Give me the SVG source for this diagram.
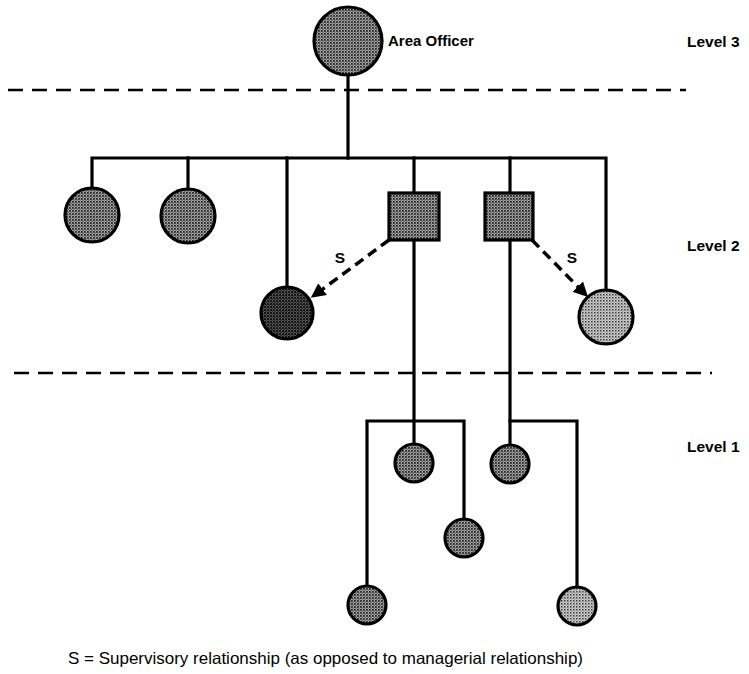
<svg xmlns="http://www.w3.org/2000/svg" width="749" height="674" viewBox="0 0 749 674">
<style>
.ln{stroke:#000;stroke-width:3.2;fill:none;stroke-linecap:square}
.div{stroke:#000;stroke-width:2.5;fill:none;stroke-dasharray:15 9}
.sup{stroke:#000;stroke-width:3.5;fill:none;stroke-dasharray:10 6}
.nd{stroke:#000;stroke-width:3.2}
.t{font-family:"Liberation Sans",Arial,sans-serif;font-weight:bold;fill:#000}
.cap{font-family:"Liberation Sans",Arial,sans-serif;fill:#000}
</style>
<defs>
<pattern id="pMed" width="3" height="3" patternUnits="userSpaceOnUse"><rect width="3" height="3" fill="#b4b4b4"/><rect width="1.8" height="1.8" fill="#222"/><rect x="1.5" y="1.5" width="1.3" height="1.3" fill="#444"/></pattern>
<pattern id="pDark" width="3" height="3" patternUnits="userSpaceOnUse"><rect width="3" height="3" fill="#7a7a7a"/><rect width="2.2" height="2.2" fill="#111"/><rect x="1.5" y="1.5" width="1.5" height="1.5" fill="#222"/></pattern>
<pattern id="pLight" width="3" height="3" patternUnits="userSpaceOnUse"><rect width="3" height="3" fill="#d6d6d6"/><rect width="1.5" height="1.5" fill="#333"/><rect x="1.5" y="1.5" width="1.1" height="1.1" fill="#666"/></pattern>
<marker id="ah" viewBox="0 0 10 10" refX="9" refY="5" markerWidth="4.2" markerHeight="4.2" orient="auto" markerUnits="strokeWidth"><path d="M0,0 L10,5 L0,10 z" fill="#000"/></marker>
</defs>

<g id="dividers">
<line class="div" x1="8" y1="90" x2="686" y2="90"/>
<line class="div" x1="14" y1="373" x2="712" y2="373"/>
</g>

<g id="connectors">
<path class="ln" d="M348,75 V158"/>
<path class="ln" d="M92,188 V158 H606 V290"/>
<path class="ln" d="M188,189 V158"/>
<path class="ln" d="M287,287 V158"/>
<path class="ln" d="M414,193 V158"/>
<path class="ln" d="M510,193 V158"/>
<path class="ln" d="M414,240 V444"/>
<path class="ln" d="M367,586 V421 H464 V519"/>
<path class="ln" d="M510,240 V445"/>
<path class="ln" d="M510,421 H577 V587"/>
<path class="sup" d="M389,240 L312,297" marker-end="url(#ah)"/>
<path class="sup" d="M532,240 L587,296" marker-end="url(#ah)"/>
<text class="t" x="340" y="263" font-size="15.5" text-anchor="middle">S</text>
<text class="t" x="572" y="263" font-size="15.5" text-anchor="middle">S</text>
</g>

<g id="area-officer">
<circle class="nd" cx="348" cy="41" r="34" fill="url(#pMed)"/>
<text class="t" x="388" y="46" font-size="15">Area Officer</text>
</g>

<g id="l2-circle-1"><circle class="nd" cx="92" cy="215" r="27" fill="url(#pMed)"/></g>
<g id="l2-circle-2"><circle class="nd" cx="188" cy="216" r="27" fill="url(#pMed)"/></g>
<g id="l2-circle-dark"><circle class="nd" cx="287" cy="313" r="26" fill="url(#pDark)"/></g>
<g id="l2-square-1"><rect class="nd" x="389" y="193" width="50" height="47" fill="url(#pMed)"/></g>
<g id="l2-square-2"><rect class="nd" x="485" y="193" width="48" height="47" fill="url(#pMed)"/></g>
<g id="l2-circle-light"><circle class="nd" cx="606" cy="317" r="27" fill="url(#pLight)"/></g>

<g id="l1-circle-1"><circle class="nd" cx="414" cy="463" r="19" fill="url(#pMed)"/></g>
<g id="l1-circle-2"><circle class="nd" cx="464" cy="538" r="19" fill="url(#pMed)"/></g>
<g id="l1-circle-3"><circle class="nd" cx="510" cy="464" r="19" fill="url(#pMed)"/></g>
<g id="l1-circle-4"><circle class="nd" cx="367" cy="605" r="19" fill="url(#pMed)"/></g>
<g id="l1-circle-5"><circle class="nd" cx="577" cy="606" r="19" fill="url(#pLight)"/></g>

<g id="levels">
<text class="t" x="687" y="47" font-size="15.5">Level 3</text>
<text class="t" x="687" y="251" font-size="15.5">Level 2</text>
<text class="t" x="687" y="452" font-size="15.5">Level 1</text>
</g>

<g id="legend">
<text class="cap" x="68" y="664" font-size="16.5" textLength="515" lengthAdjust="spacingAndGlyphs">S = Supervisory relationship (as opposed to managerial relationship)</text>
</g>
</svg>
